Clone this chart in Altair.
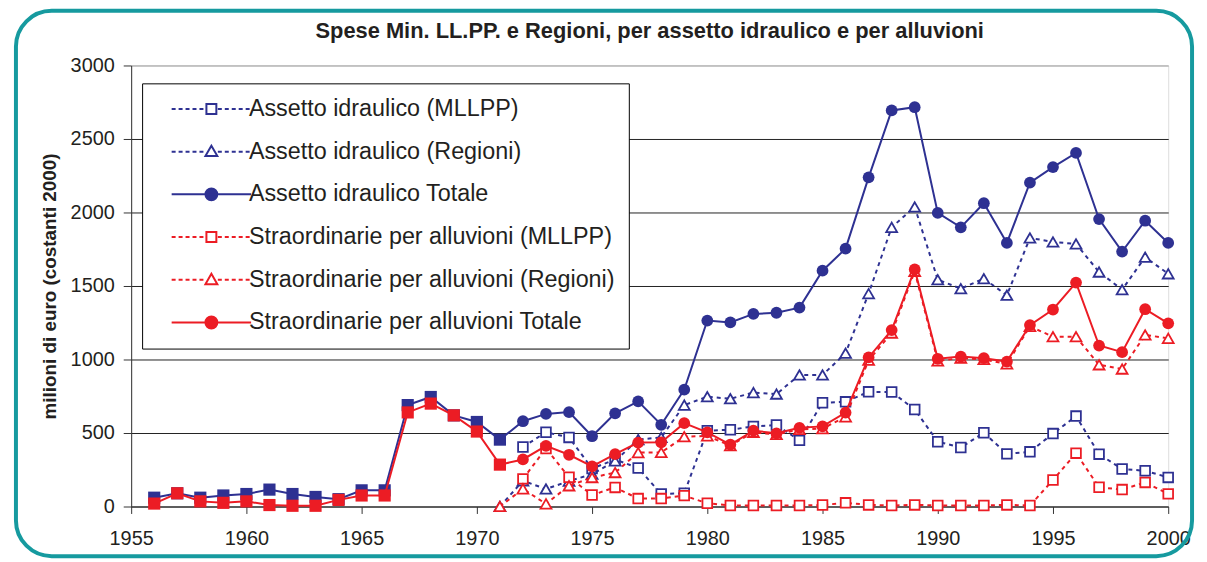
import altair as alt
import pandas as pd

# ---------------- data ----------------
years_total = list(range(1956, 2001))
blue_total = [60, 90, 60, 75, 85, 115, 85, 65, 50, 110, 110,
              690, 745, 620, 575, 455,
              580, 630, 642, 478, 634, 715, 556, 795,
              1265, 1252, 1310, 1318, 1353, 1604, 1754, 2239, 2694, 2716,
              1997, 1899, 2063, 1793, 2203, 2309, 2405, 1955, 1734, 1944, 1793]
red_total = [20, 90, 35, 25, 35, 10, 5, 5, 45, 75, 75,
             640, 700, 620, 510, 285,
             320, 412, 352, 273, 356, 435, 437, 567,
             504, 421, 516, 498, 535, 545, 639, 1014, 1200, 1613,
             1005, 1020, 1009, 986, 1234, 1340, 1523, 1095, 1050, 1342, 1246]

years_mllpp = list(range(1972, 2001))
blue_mllpp = [405, 505, 470, 258, 320, 262, 85, 90,
              516, 522, 545, 554, 450, 706, 712, 780, 779, 660,
              441, 401, 502, 358, 372, 496, 615, 356, 255, 243, 198]
red_mllpp = [188, 395, 199, 78, 130, 54, 54, 74,
             22, 7, 7, 7, 7, 10, 25, 11, 7, 11,
             7, 7, 7, 11, 7, 180, 363, 131, 115, 164, 86]

years_regioni = list(range(1971, 2001))
blue_regioni = [0, 175, 119, 173, 220, 310, 455, 470, 690,
                747, 733, 775, 765, 895, 895, 1043, 1448, 1899, 2038,
                1543, 1482, 1550, 1437, 1827, 1800, 1786, 1595, 1475, 1696, 1583]
red_regioni = [0, 120, 18, 141, 197, 231, 367, 368, 475,
               480, 414, 505, 490, 525, 530, 610, 995, 1180, 1600,
               990, 1010, 1000, 970, 1225, 1155, 1155, 964, 935, 1167, 1144]

series_names = [
    "Assetto idraulico (MLLPP)",
    "Assetto idraulico (Regioni)",
    "Assetto idraulico Totale",
    "Straordinarie per alluvioni (MLLPP)",
    "Straordinarie per alluvioni (Regioni)",
    "Straordinarie per alluvioni Totale",
]
last_square_year = 1971  # totals drawn as filled squares up to this year

# ---------------- styling ----------------
BLUE = "#2e3192"
RED = "#ec1c24"
FONT = "Liberation Sans"
TEXT = "#231f20"

series_specs = [
    (series_names[0], years_mllpp, blue_mllpp, BLUE, "mllpp"),
    (series_names[1], years_regioni, blue_regioni, BLUE, "regioni"),
    (series_names[2], years_total, blue_total, BLUE, "totale"),
    (series_names[3], years_mllpp, red_mllpp, RED, "mllpp"),
    (series_names[4], years_regioni, red_regioni, RED, "regioni"),
    (series_names[5], years_total, red_total, RED, "totale"),
]

x_enc = alt.X("year:Q", scale=alt.Scale(domain=[1955, 2000], nice=False, zero=False),
              axis=alt.Axis(values=list(range(1955, 2001, 5)), format="d", title=None,
                            grid=False, labelFont=FONT, labelFontSize=20, labelColor=TEXT,
                            labelPadding=15, tickSize=7, tickColor="#333", domainColor="#333",
                            labelFlush=False))
y_enc = alt.Y("value:Q", scale=alt.Scale(domain=[0, 3000], nice=False),
              axis=alt.Axis(values=list(range(0, 3001, 500)), format="d",
                            title="milioni di euro (costanti 2000)",
                            titleFont=FONT, titleFontSize=19, titleFontWeight="bold", titleColor=TEXT,
                            titlePadding=11, labelFont=FONT, labelFontSize=20, labelColor=TEXT,
                            labelPadding=9, tickSize=8, tickColor="#333", domainColor="#333",
                            grid=True, gridWidth=1,
                            gridColor={"condition": {"test": "datum.value === 3000", "value": "#9a9a9a"},
                                       "value": "#222222"}))

layers = []
for name, yrs, vals, col, kind in series_specs:
    df = pd.DataFrame({"year": yrs, "value": vals, "series": name})
    base = alt.Chart(df)
    if kind == "totale":
        line = base.mark_line(color=col, strokeWidth=2).encode(x=x_enc, y=y_enc)
        sq = base.transform_filter(f"datum.year <= {last_square_year}").mark_point(
            shape="square", filled=True, color=col, size=150, opacity=1).encode(x=x_enc, y=y_enc)
        ci = base.transform_filter(f"datum.year > {last_square_year}").mark_point(
            shape="circle", filled=True, color=col, size=140, opacity=1).encode(x=x_enc, y=y_enc)
        layers += [line, sq, ci]
    else:
        shape = "square" if kind == "mllpp" else "triangle-up"
        size = 95 if kind == "mllpp" else 120
        line = base.mark_line(color=col, strokeWidth=2, strokeDash=[4, 4]).encode(x=x_enc, y=y_enc)
        pts = base.mark_point(shape=shape, filled=True, fill="white", stroke=col, strokeWidth=1.8,
                              size=size, opacity=1).encode(x=x_enc, y=y_enc)
        layers += [line, pts]


# ---------------- legend (line + marker symbols as custom paths) ----------------
def dashed(x0, x1, d=0.8, g=0.6):
    segs, x = [], x0
    while x < x1 - 1e-9:
        e = min(x + d, x1)
        segs.append(f"M{x:.2f},0H{e:.2f}")
        x = e + g
    return "".join(segs)


SQ = "M-1,-1H1V1H-1Z"
TRI = "M0,-1.2L1.2,0.9H-1.2Z"
CIR = "M1.2,0A1.2,1.2 0 1,1 -1.2,0A1.2,1.2 0 1,1 1.2,0Z"
dash_path = lambda marker: dashed(-8, -1.3) + marker + dashed(1.3, 8)
paths = [dash_path(SQ), dash_path(TRI), "M-8,0H8" + CIR,
         dash_path(SQ), dash_path(TRI), "M-8,0H8" + CIR]
strokes = [BLUE, BLUE, BLUE, RED, RED, RED]
fills = ["white", "white", BLUE, "white", "white", RED]

legend_obj = alt.Legend(title=None, orient="none", legendX=11, legendY=18, padding=14,
                        fillColor="white", strokeColor="black",
                        labelFont=FONT, labelFontSize=23.5, labelColor=TEXT, labelLimit=700,
                        symbolSize=100, symbolStrokeWidth=2, symbolOpacity=1,
                        symbolOffset=44, labelOffset=26, rowPadding=18)

leg_df = pd.DataFrame({"series": series_names})
legend_layer = alt.Chart(leg_df).mark_point(opacity=0, filled=True).encode(
    shape=alt.Shape("series:N", scale=alt.Scale(domain=series_names, range=paths), legend=legend_obj),
    stroke=alt.Stroke("series:N", scale=alt.Scale(domain=series_names, range=strokes), legend=legend_obj),
    fill=alt.Fill("series:N", scale=alt.Scale(domain=series_names, range=fills), legend=legend_obj),
)

# ---------------- rounded teal frame (decoration) ----------------
frame = alt.Chart(pd.DataFrame({"k": [0]})).mark_rect(
    fillOpacity=0, stroke="#169a9f", strokeWidth=4, cornerRadius=36, clip=False
).encode(x=alt.value(-116), x2=alt.value(1068), y=alt.value(-55), y2=alt.value(494))

chart = alt.layer(*layers, legend_layer, frame).properties(
    width=1044, height=444,
    title=alt.TitleParams("Spese Min. LL.PP. e Regioni, per assetto idraulico e per alluvioni",
                          font=FONT, fontSize=22, fontWeight="bold", color=TEXT,
                          anchor="middle", frame="group", offset=-34),
    autosize=alt.AutoSizeParams(type="none"),
    padding={"left": 124, "top": 56, "right": 31, "bottom": 54},
).configure_view(stroke="#9a9a9a", strokeWidth=1.5).configure(font=FONT, background="white")

chart.save("out.html", embed_options={"renderer": "svg", "actions": False})
